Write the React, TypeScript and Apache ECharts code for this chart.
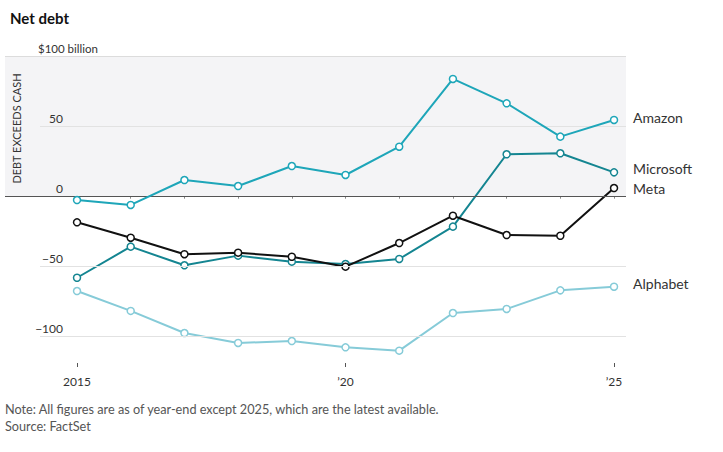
import React, { useEffect, useRef } from "react";
import * as echarts from "echarts";

const years = [2015, 2016, 2017, 2018, 2019, 2020, 2021, 2022, 2023, 2024, 2025];
const amazon = [-2.4, -5.9, 11.9, 7.6, 21.9, 15.5, 35.7, 84.1, 66.7, 42.9, 54.8];
const microsoft = [-57.9, -35.7, -49.0, -42.1, -46.4, -48.1, -44.5, -21.4, 30.3, 31.0, 17.4];
const meta = [-18.3, -29.3, -41.1, -40.0, -42.9, -50.0, -33.1, -13.6, -27.4, -27.9, 6.2];
const alphabet = [-67.4, -81.6, -97.4, -104.5, -103.1, -107.6, -110.0, -83.1, -80.2, -66.9, -64.3];

const yTicks = [-100, -50, 0, 50, 100];
const lightGridValues = [50, -50, -100];
const majorYears = [2015, 2020, 2025];

const FONT = "Lato, 'Noto Sans', sans-serif";
const X_MIN = 2013.659;
const X_MAX = 2025.223;
const GRID_START = 2014.311;

export default function App() {
  const ref = useRef<HTMLDivElement>(null);

  useEffect(() => {
    if (!ref.current) return;
    const chart = echarts.init(ref.current, undefined, { renderer: "svg" });

    const pairs = (vals: number[]) => years.map((y, i) => [y, vals[i]]);

    const mkSeries = (
      name: string,
      vals: number[],
      color: string,
      offset: number[],
      z: number
    ) => ({
      name,
      type: "line",
      data: pairs(vals),
      z,
      symbol: "circle",
      symbolSize: 7,
      lineStyle: { color, width: 2 },
      itemStyle: { color: "#fff", borderColor: color, borderWidth: 1.5 },
      emphasis: { disabled: true },
      endLabel: {
        show: true,
        formatter: "{a}",
        distance: 19,
        offset,
        color: "#333",
        fontSize: 14,
        fontFamily: FONT,
      },
    });

    const option = {
      animation: false,
      backgroundColor: "#fff",
      textStyle: { fontFamily: FONT },
      title: {
        text: "Net debt",
        left: 5,
        top: 5,
        textStyle: { fontSize: 15, fontWeight: "bold", color: "#111", fontFamily: FONT },
      },
      grid: { left: 5, right: 97, top: 56.7, bottom: 89 },
      xAxis: [
        {
          type: "value",
          min: X_MIN,
          max: X_MAX,
          axisLine: { show: false },
          splitLine: { show: false },
          axisTick: {
            show: true,
            customValues: years,
            length: 2,
            lineStyle: { color: "#888" },
          },
          axisLabel: { show: false },
        },
        {
          type: "value",
          position: "bottom",
          min: X_MIN,
          max: X_MAX,
          axisLine: { show: false },
          splitLine: { show: false },
          axisTick: {
            show: true,
            customValues: majorYears,
            length: 4,
            lineStyle: { color: "#555" },
          },
          axisLabel: {
            show: true,
            customValues: majorYears,
            margin: 12,
            color: "#333",
            fontSize: 12,
            fontFamily: FONT,
            formatter: (v: number) =>
              v === years[0] ? String(v) : "\u2019" + String(v).slice(2),
          },
        },
      ],
      yAxis: {
        type: "value",
        z: 10,
        min: -118.8,
        max: 100,
        axisLine: { show: false },
        axisTick: { show: false },
        splitLine: { show: false },
        axisLabel: {
          show: true,
          inside: true,
          customValues: yTicks,
          align: "right",
          verticalAlign: "bottom",
          margin: 58,
          padding: [0, 0, 2, 0],
          color: "#333",
          fontSize: 12,
          fontFamily: FONT,
          formatter: (v: number) =>
            v === 100 ? "{b|$100 billion}" : v < 0 ? "\u2212" + Math.abs(v) : String(v),
          rich: {
            b: { width: 25, align: "left", color: "#333", fontSize: 11.5, fontFamily: FONT },
          },
        },
      },
      graphic: [
        {
          type: "text",
          z: 100,
          x: 16.5,
          y: 128.5,
          rotation: Math.PI / 2,
          style: {
            text: "DEBT EXCEEDS CASH",
            align: "center",
            verticalAlign: "middle",
            fill: "#333",
            fontSize: 11,
            fontFamily: FONT,
          },
        },
        {
          type: "text",
          z: 100,
          left: 5,
          top: 402,
          style: {
            text: "Note: All figures are as of year-end except 2025, which are the latest available.",
            fill: "#555",
            fontSize: 12.7,
            fontFamily: FONT,
          },
        },
        {
          type: "text",
          z: 100,
          left: 5,
          top: 419,
          style: {
            text: "Source: FactSet",
            fill: "#555",
            fontSize: 12.7,
            fontFamily: FONT,
          },
        },
      ],
      series: [
        {
          name: "bg",
          type: "line",
          data: [],
          z: 1,
          silent: true,
          markArea: {
            silent: true,
            itemStyle: { color: "#f4f4f6" },
            data: [[{ coord: [X_MIN, 0] }, { coord: [X_MAX, 100] }]],
          },
          markLine: {
            silent: true,
            symbol: "none",
            label: { show: false },
            data: [
              [
                { coord: [X_MIN, 100], lineStyle: { color: "#dcdcdc", width: 1, type: "solid" } },
                { coord: [X_MAX, 100] },
              ],
              ...lightGridValues.map((v) => [
                { coord: [GRID_START, v], lineStyle: { color: "#e2e2e2", width: 1, type: "solid" } },
                { coord: [X_MAX, v] },
              ]),
              [
                { coord: [X_MIN, 0], lineStyle: { color: "#555", width: 1.2, type: "solid" } },
                { coord: [X_MAX, 0] },
              ],
            ],
          },
        },
        mkSeries("Alphabet", alphabet, "#86cbd8", [0, -3], 2),
        mkSeries("Microsoft", microsoft, "#148591", [0, -4], 3),
        mkSeries("Meta", meta, "#111111", [0, 0], 4),
        mkSeries("Amazon", amazon, "#1ea6b9", [0, -2], 5),
      ],
    };

    chart.setOption(option as any);
    return () => chart.dispose();
  }, []);

  return (
    <div
      ref={ref}
      style={{ position: "fixed", left: 0, top: 0, width: 723, height: 452 }}
    />
  );
}
